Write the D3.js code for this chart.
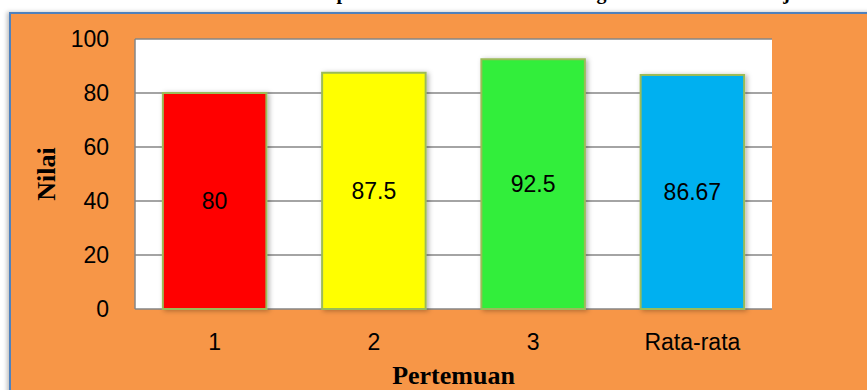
<!DOCTYPE html>
<html>
<head>
<meta charset="utf-8">
<script src="https://cdn.jsdelivr.net/npm/d3@7"></script>
<style>
  html, body { margin: 0; padding: 0; background: #ffffff; }
  svg { display: block; }
</style>
</head>
<body>
<div id="chart"></div>
<script>
// Chart data
const categories = ["1", "2", "3", "Rata-rata"];
const values = [80, 87.5, 92.5, 86.67];
const valueLabels = ["80", "87.5", "92.5", "86.67"];
const barColors = ["#FF0000", "#FFFF00", "#33EE3A", "#00B0F0"];
const yTicks = [0, 20, 40, 60, 80, 100];
const titleText = "Rekapitulasi Nilai Siswa Selama Kegiatan Observasi Belajar";
const xTitle = "Pertemuan";
const yTitle = "Nilai";

const W = 867, H = 390;
const plot = { left: 135, right: 772, top: 39, bottom: 309 };

const svg = d3.select("#chart").append("svg")
  .attr("width", W).attr("height", H);

const defs = svg.append("defs");
const fs = defs.append("filter").attr("id", "frameShadow")
  .attr("x", "-5%").attr("y", "-5%").attr("width", "110%").attr("height", "110%");
fs.append("feDropShadow").attr("dx", -2).attr("dy", 0).attr("stdDeviation", 2)
  .attr("flood-color", "#000").attr("flood-opacity", 0.25);

const bs = defs.append("filter").attr("id", "barShadow")
  .attr("x", "-20%").attr("y", "-10%").attr("width", "140%").attr("height", "120%");
bs.append("feDropShadow").attr("dx", 2).attr("dy", 1).attr("stdDeviation", 2.5)
  .attr("flood-color", "#000").attr("flood-opacity", 0.3);

// Chart title (sits above the frame, mostly beyond the top edge)
svg.append("text")
  .attr("x", 292).attr("y", -1)
  .attr("font-family", "'Liberation Serif', serif")
  .attr("font-weight", "bold")
  .attr("font-size", 20)
  .attr("fill", "#000")
  .text(titleText);

// Orange chart frame
svg.append("rect")
  .attr("x", 10).attr("y", 13)
  .attr("width", W + 20).attr("height", H + 20)
  .attr("fill", "#F79646")
  .attr("stroke", "#4F81BD").attr("stroke-width", 2)
  .attr("filter", "url(#frameShadow)");

// Scales
const x = d3.scaleBand()
  .domain(categories)
  .range([plot.left, plot.right])
  .paddingInner(0.35)
  .paddingOuter(0.175);

const y = d3.scaleLinear()
  .domain([0, 100])
  .range([plot.bottom, plot.top]);

// Plot area
svg.append("rect")
  .attr("x", plot.left).attr("y", plot.top)
  .attr("width", plot.right - plot.left)
  .attr("height", plot.bottom - plot.top)
  .attr("fill", "#FFFFFF");

// Gridlines
svg.append("g")
  .selectAll("line")
  .data(yTicks)
  .join("line")
  .attr("x1", plot.left).attr("x2", plot.right)
  .attr("y1", d => y(d)).attr("y2", d => y(d))
  .attr("stroke", "#868686").attr("stroke-width", 1.5);

// Left edge of plot area
svg.append("line")
  .attr("x1", plot.left).attr("x2", plot.left)
  .attr("y1", plot.top).attr("y2", plot.bottom)
  .attr("stroke", "#868686").attr("stroke-width", 1.5);

// Bars
svg.append("g")
  .selectAll("rect")
  .data(categories)
  .join("rect")
  .attr("x", d => x(d))
  .attr("y", (d, i) => y(values[i]))
  .attr("width", x.bandwidth())
  .attr("height", (d, i) => y(0) - y(values[i]))
  .attr("fill", (d, i) => barColors[i])
  .attr("stroke", "#9BBB59").attr("stroke-width", 2)
  .attr("filter", "url(#barShadow)");

// Value labels centred in each bar
svg.append("g")
  .selectAll("text")
  .data(categories)
  .join("text")
  .attr("x", d => x(d) + x.bandwidth() / 2)
  .attr("y", (d, i) => (y(values[i]) + y(0)) / 2)
  .attr("dy", "0.36em")
  .attr("text-anchor", "middle")
  .attr("font-family", "'Liberation Sans', Arial, sans-serif")
  .attr("font-size", 23)
  .attr("fill", "#000")
  .text((d, i) => valueLabels[i]);

// Y axis
const yAxis = svg.append("g")
  .attr("transform", `translate(${plot.left},0)`)
  .call(d3.axisLeft(y).tickValues(yTicks).tickSize(0).tickPadding(26).tickFormat(d3.format("d")));
yAxis.select(".domain").remove();
yAxis.selectAll("text")
  .attr("font-family", "'Liberation Sans', Arial, sans-serif")
  .attr("font-size", 23)
  .attr("fill", "#000");

// X axis
const xAxis = svg.append("g")
  .attr("transform", `translate(0,${plot.bottom})`)
  .call(d3.axisBottom(x).tickSize(0).tickPadding(25));
xAxis.select(".domain").remove();
xAxis.selectAll("text")
  .attr("font-family", "'Liberation Sans', Arial, sans-serif")
  .attr("font-size", 23)
  .attr("fill", "#000");

// Axis titles
svg.append("text")
  .attr("x", (plot.left + plot.right) / 2).attr("y", 384)
  .attr("text-anchor", "middle")
  .attr("font-family", "'Liberation Serif', serif")
  .attr("font-weight", "bold")
  .attr("font-size", 26)
  .attr("fill", "#000")
  .text(xTitle);

svg.append("text")
  .attr("transform", `translate(55,${(plot.top + plot.bottom) / 2}) rotate(-90)`)
  .attr("text-anchor", "middle")
  .attr("font-family", "'Liberation Serif', serif")
  .attr("font-weight", "bold")
  .attr("font-size", 26)
  .attr("fill", "#000")
  .text(yTitle);
</script>
</body>
</html>
